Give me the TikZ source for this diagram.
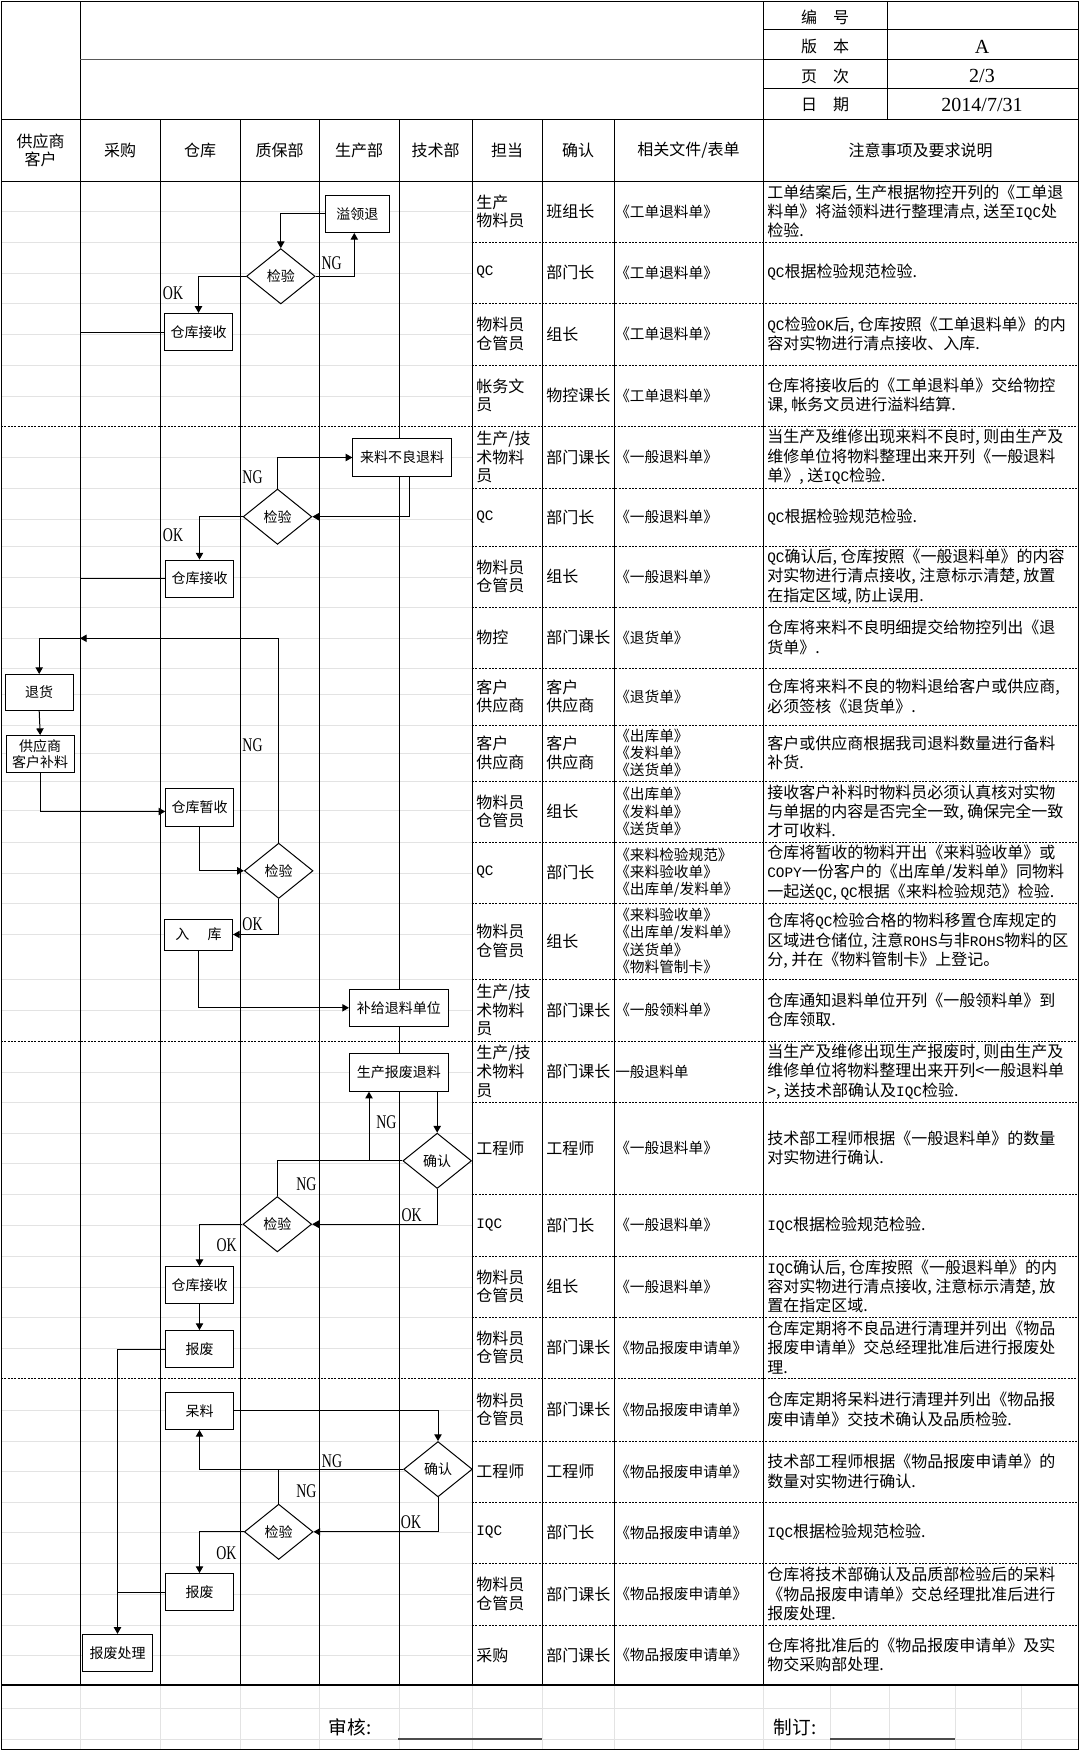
\documentclass[tikz,border=0pt]{standalone}
\usepackage{fontspec}
\setmainfont{Noto Sans CJK SC}
\newfontfamily\numserif{Liberation Serif}
\newfontfamily\tagserif{Liberation Serif}[FakeStretch=0.72]
\newfontfamily\halfw{Liberation Mono}[Scale=0.9]
\usetikzlibrary{arrows.meta,shapes.geometric,positioning}

\tikzset{
  flowbox/.style={draw, fill=white, line width=0.75pt, minimum width=51pt, minimum height=28pt,
    inner sep=1pt, align=center, font=\fontsize{10.5}{11.5}\selectfont},
  widebox/.style={flowbox, minimum width=74pt},
  check/.style={draw, fill=white, diamond, line width=0.75pt, minimum width=51.5pt,
    minimum height=41.5pt, inner sep=0pt, font=\fontsize{10.5}{11.5}\selectfont},
  flowline/.style={line width=0.75pt},
  flowarrow/.style={flowline, -{Triangle[length=5pt,width=5.5pt]}},
  tag/.style={inner sep=0pt, font=\tagserif\fontsize{14.5}{14.5}\selectfont},
  cell/.style={anchor=west, inner sep=0pt, align=left, font=\fontsize{12}{14}\selectfont},
  doccell/.style={cell, font=\fontsize{11}{13}\selectfont},
  notecell/.style={cell, font=\fontsize{12}{14.5}\selectfont},
  head/.style={inner sep=0pt, align=center, font=\fontsize{12}{13.5}\selectfont},
  numval/.style={inner sep=0pt, font=\numserif\fontsize{15}{15}\selectfont},
  rowline/.style={line width=0.6pt, dash pattern=on 1.5pt off 1pt},
  gridline/.style={gray!22, line width=0.75pt},
  tabline/.style={line width=0.75pt},
}

% one row of the right-hand table
\newcommand\tabrow[6]{%
  \node[cell] (who#1) at (476,#2) {#3};
  \node[cell] (conf#1) at (546,#2) {#4};
  \node[doccell] (doc#1) at (615,#2) {#5};
  \node[notecell] (note#1) at (767,#2) {#6};
}

\begin{document}
\begin{tikzpicture}[x=0.75pt,y=-0.75pt]
\useasboundingbox[fill=white] (0,0) rectangle (1080,1752);

% excel grid
\foreach \y in {211.7,242,273,303,334,365,396,457.7,488,519,546,577,607,638,668,694,725,753,781,810,842,873,903,934,979,1010,1072,1102,1133,1163,1194,1225,1256,1287,1317,1348,1410,1441,1471,1502,1532,1563,1594,1625,1655}
  \draw[gridline] (1,\y) -- (472,\y);
\foreach \y in {1708,1739} \draw[gridline] (1,\y) -- (1078,\y);
\foreach \x in {80,160,240,319,399,472,542,614,763,830,889,955,1021} \draw[gridline] (\x,1685) -- (\x,1749);

% frame and columns
\draw[tabline] (1,2) rectangle (1078,1749);
\draw[tabline] (80,2) -- (80,119);
\draw[tabline, gray!70!black] (80,60) -- (763,60);
\draw[tabline] (763,2) -- (763,119);
\draw[tabline] (887,2) -- (887,119);
\foreach \y in {30,60,89} \draw[tabline] (763,\y) -- (1078,\y);
\draw[tabline] (1,119) -- (1078,119);
\draw[tabline] (1,181) -- (1078,181);
\foreach \x in {80,160,240,319,399,472,542,614,763} \draw[tabline] (\x,119) -- (\x,1685);
\draw[line width=1.5pt] (1,1685) -- (1078,1685);
\foreach \y in {242,303,365,488,546,607,668,725,781,842,903,979,1102,1194,1256,1317,1441,1502,1563,1625}
  \draw[rowline] (472,\y) -- (1078,\y);
\foreach \y in {426,1041,1378} \draw[rowline] (1,\y) -- (1078,\y);

% header
\node[head] (lbno) at (825,17) {编\quad 号};
\node[head] (lbver) at (825,46) {版\quad 本};
\node[head] (lbpage) at (825,76) {页\quad 次};
\node[head] (lbdate) at (825,105) {日\quad 期};
\node[numval] (vver) at (982,47) {A};
\node[numval] (vpage) at (982,76) {2/3};
\node[numval] (vdate) at (982,105) {2014/7/31};

\node[head] (hsup) at (40.5,150) {供应商\\客户};
\node[head] (hbuy) at (120,150) {采购};
\node[head] (hstore) at (200,150) {仓库};
\node[head] (hqa) at (279.5,150) {质保部};
\node[head] (hprod) at (359,150) {生产部};
\node[head] (htech) at (435.5,150) {技术部};
\node[head] (hwho) at (507,150) {担当};
\node[head] (hconf) at (578,150) {确认};
\node[head] (hdoc) at (688.5,150) {相关文件/表单};
\node[head] (hnote) at (920.5,150) {注意事项及要求说明};

\coordinate (lane1) at (80,0);

% section 1
\node[flowbox, minimum width=48pt] (yl) at (357.3,213.8) {溢领退};
\node[check] (qc1) at (280.8,276.3) {检验};
\node[flowbox] (ck1) at (198.5,332) {仓库接收};
\draw[flowarrow] (yl.west) -| (qc1.north);
\draw[flowarrow] (qc1.east) -| ([xshift=-2.25pt]yl.south);
\draw[flowarrow] (qc1.west) -| (ck1.north);
\draw[flowline] (ck1.west) -- (ck1.west -| lane1);
\node[tag] (ng1) at (331.7,263) {NG};
\node[tag] (ok1) at (173,293) {OK};

% section 2
\node[widebox] (bl) at (402.2,457.5) {来料不良退料};
\node[check] (qc2) at (277.5,516.7) {检验};
\node[flowbox] (ck2) at (199.5,578.7) {仓库接收};
\draw[flowarrow] (qc2.north) |- (bl.west);
\draw[flowarrow] ([xshift=5.25pt]bl.south) |- (qc2.east);
\draw[flowarrow] (qc2.west) -| (ck2.north);
\draw[flowline] (ck2.west) -- (ck2.west -| lane1);
\node[tag] (ng2) at (252.5,477.5) {NG};
\node[tag] (ok2) at (173,535.5) {OK};

\node[flowbox, minimum height=27pt] (th) at (39.2,692.5) {退货};
\node[flowbox] (bl2) at (40.2,754.2) {供应商\\客户补料};
\node[flowbox] (zs) at (199.7,807.5) {仓库暂收};
\node[check] (qc3) at (278.7,870.8) {检验};
\node[flowbox, minimum height=23.25pt] (rk) at (198.5,934.5) {入\hspace{1.3em}库};
\node[widebox] (bg) at (398.8,1007.8) {补给退料单位};
\coordinate (back) at (80,638.3);
\draw[flowarrow] (qc3.north) |- (back);
\draw[flowarrow] (back) -| (th.north);
\draw[flowarrow] (th.south) -- (bl2.north);
\draw[flowarrow] (bl2.south) |- ([yshift=-3pt]zs.west);
\draw[flowarrow] (zs.south) |- (qc3.west);
\draw[flowarrow] (qc3.south) |- (rk.east);
\draw[flowarrow] (rk.south) |- (bg.west);
\node[tag] (ng3) at (252.5,745.5) {NG};
\node[tag] (ok3) at (252.5,924.5) {OK};

% section 3
\node[widebox] (sb) at (398.8,1072.5) {生产报废退料};
\node[check] (qr1) at (437.2,1160.8) {确认};
\node[check] (qc4) at (277.3,1224.2) {检验};
\node[flowbox] (ck3) at (199.5,1285.3) {仓库接收};
\node[flowbox] (bf1) at (199.5,1349.2) {报废};
\node[flowbox, minimum width=52.5pt] (bfcl) at (117.5,1653) {报废处理};
\coordinate (ngj) at (369,1160.8);
\draw[flowarrow] (sb.south -| qr1.north) -- (qr1.north);
\draw[flowarrow] (qr1.west) -- (ngj) -- (ngj |- sb.south);
\draw[flowline] (qc4.north) |- (ngj);
\draw[flowarrow] (qr1.south) |- (qc4.east);
\draw[flowarrow] (qc4.west) -| (ck3.north);
\draw[flowarrow] (ck3.south) -- (bf1.north);
\draw[flowarrow] (bf1.west) -| (bfcl.north);
\node[tag] (ng4) at (386.3,1122.5) {NG};
\node[tag] (ng5) at (306.3,1184.2) {NG};
\node[tag] (ok4) at (411.7,1215) {OK};
\node[tag] (ok5) at (226.7,1245.5) {OK};

% section 4
\node[flowbox] (dl) at (199.5,1410.8) {呆料};
\node[check] (qr2) at (438,1469.2) {确认};
\node[check] (qc5) at (278.7,1531.8) {检验};
\node[flowbox] (bf2) at (199.5,1592.2) {报废};
\draw[flowarrow] (dl.east) -| (qr2.north);
\draw[flowarrow] (qr2.west) -| (dl.south);
\draw[flowline] (qc5.north) -- (qc5.north |- qr2.west);
\draw[flowarrow] (qr2.south) |- (qc5.east);
\draw[flowarrow] (qc5.west) -| (bf2.north);
\draw[flowline] (bf2.west) -- (bf2.west -| bfcl.north);
\node[tag] (ng6) at (332,1461.5) {NG};
\node[tag] (ng7) at (306.3,1491.5) {NG};
\node[tag] (ok6) at (411,1522.5) {OK};
\node[tag] (ok7) at (226.3,1553) {OK};

% table rows
\tabrow{1}{211.5}{生产\\物料员}{班组长}{《工单退料单》}{工单结案后, 生产根据物控开列的《工单退\\料单》将溢领料进行整理清点, 送至{\halfw IQC}处\\检验.}
\tabrow{2}{272.5}{{\halfw QC}}{部门长}{《工单退料单》}{{\halfw QC}根据检验规范检验.}
\tabrow{3}{334}{物料员\\仓管员}{组长}{《工单退料单》}{{\halfw QC}检验{\halfw OK}后, 仓库按照《工单退料单》的内\\容对实物进行清点接收、入库.}
\tabrow{4}{395.5}{帐务文\\员}{物控课长}{《工单退料单》}{仓库将接收后的《工单退料单》交给物控\\课, 帐务文员进行溢料结算.}
\tabrow{5}{457}{生产/技\\术物料\\员}{部门课长}{《一般退料单》}{当生产及维修出现来料不良时, 则由生产及\\维修单位将物料整理出来开列《一般退料\\单》, 送{\halfw IQC}检验.}
\tabrow{6}{517}{{\halfw QC}}{部门长}{《一般退料单》}{{\halfw QC}根据检验规范检验.}
\tabrow{7}{576.5}{物料员\\仓管员}{组长}{《一般退料单》}{{\halfw QC}确认后, 仓库按照《一般退料单》的内容\\对实物进行清点接收, 注意标示清楚, 放置\\在指定区域, 防止误用.}
\tabrow{8}{637.5}{物控}{部门课长}{《退货单》}{仓库将来料不良明细提交给物控列出《退\\货单》.}
\tabrow{9}{696.5}{客户\\供应商}{客户\\供应商}{《退货单》}{仓库将来料不良的物料退给客户或供应商,\\必须签核《退货单》.}
\tabrow{10}{753}{客户\\供应商}{客户\\供应商}{《出库单》\\《发料单》\\《送货单》}{客户或供应商根据我司退料数量进行备料\\补货.}
\tabrow{11}{811.5}{物料员\\仓管员}{组长}{《出库单》\\《发料单》\\《送货单》}{接收客户补料时物料员必须认真核对实物\\与单据的内容是否完全一致, 确保完全一致\\才可收料.}
\tabrow{12}{872.5}{{\halfw QC}}{部门长}{《来料检验规范》\\《来料验收单》\\《出库单/发料单》}{仓库将暂收的物料开出《来料验收单》或\\{\halfw COPY}一份客户的《出库单/发料单》同物料\\一起送{\halfw QC}, {\halfw QC}根据《来料检验规范》检验.}
\tabrow{13}{941}{物料员\\仓管员}{组长}{《来料验收单》\\《出库单/发料单》\\《送货单》\\《物料管制卡》}{仓库将{\halfw QC}检验合格的物料移置仓库规定的\\区域进仓储位, 注意{\halfw ROHS}与非{\halfw ROHS}物料的区\\分, 并在《物料管制卡》上登记。}
\tabrow{14}{1010}{生产/技\\术物料\\员}{部门课长}{《一般领料单》}{仓库通知退料单位开列《一般领料单》到\\仓库领取.}
\tabrow{15}{1071.5}{生产/技\\术物料\\员}{部门课长}{一般退料单}{当生产及维修出现生产报废时, 则由生产及\\维修单位将物料整理出来开列<一般退料单\\>, 送技术部确认及{\halfw IQC}检验.}
\tabrow{16}{1148}{工程师}{工程师}{《一般退料单》}{技术部工程师根据《一般退料单》的数量\\对实物进行确认.}
\tabrow{17}{1225}{{\halfw IQC}}{部门长}{《一般退料单》}{{\halfw IQC}根据检验规范检验.}
\tabrow{18}{1286.5}{物料员\\仓管员}{组长}{《一般退料单》}{{\halfw IQC}确认后, 仓库按照《一般退料单》的内\\容对实物进行清点接收, 注意标示清楚, 放\\置在指定区域.}
\tabrow{19}{1347.5}{物料员\\仓管员}{部门课长}{《物品报废申请单》}{仓库定期将不良品进行清理并列出《物品\\报废申请单》交总经理批准后进行报废处\\理.}
\tabrow{20}{1409.5}{物料员\\仓管员}{部门课长}{《物品报废申请单》}{仓库定期将呆料进行清理并列出《物品报\\废申请单》交技术确认及品质检验.}
\tabrow{21}{1471.5}{工程师}{工程师}{《物品报废申请单》}{技术部工程师根据《物品报废申请单》的\\数量对实物进行确认.}
\tabrow{22}{1532.5}{{\halfw IQC}}{部门长}{《物品报废申请单》}{{\halfw IQC}根据检验规范检验.}
\tabrow{23}{1594}{物料员\\仓管员}{部门课长}{《物品报废申请单》}{仓库将技术部确认及品质部检验后的呆料\\《物品报废申请单》交总经理批准后进行\\报废处理.}
\tabrow{24}{1655}{采购}{部门课长}{《物品报废申请单》}{仓库将批准后的《物品报废申请单》及实\\物交采购部处理.}

% footer
\node[inner sep=0pt, font=\fontsize{14}{14}\selectfont] (audit) at (350,1727) {审核:};
\node[inner sep=0pt, font=\fontsize{14}{14}\selectfont] (draft) at (795,1727) {制订:};
\draw[gray!60!black, line width=1pt] (398,1739) -- (542,1739);
\draw[gray!60!black, line width=1pt] (830,1739) -- (955,1739);
\end{tikzpicture}
\end{document}
